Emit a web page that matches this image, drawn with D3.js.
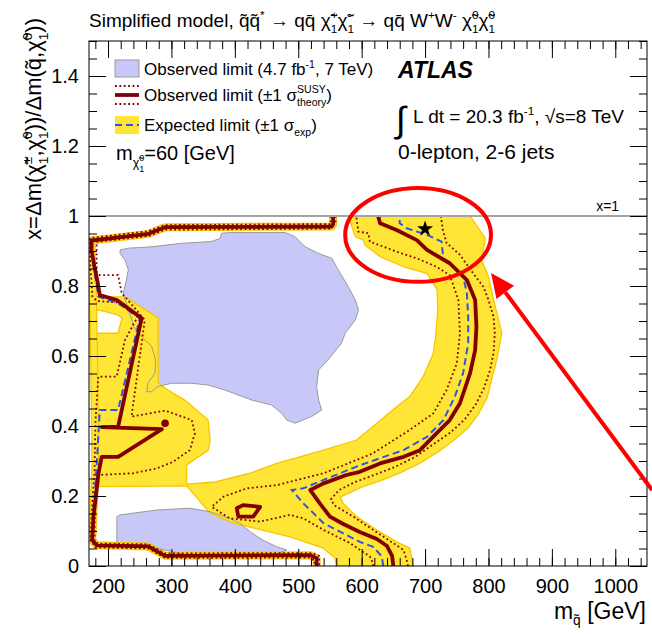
<!DOCTYPE html>
<html>
<head>
<meta charset="utf-8">
<script src="https://cdn.jsdelivr.net/npm/d3@7"></script>
<style>
  html, body { margin: 0; padding: 0; background: #fff; }
  svg { display: block; font-family: "Liberation Sans", Arial, Helvetica, sans-serif; }
</style>
</head>
<body>
<svg id="chart" width="652" height="634"></svg>
<script>
// ---------------- axis setup ----------------
const xDomain = [170, 1050];
const yDomain = [0, 1.5];
const xMajor = [200, 300, 400, 500, 600, 700, 800, 900, 1000];
const xTickLabels = ["200", "300", "400", "500", "600", "700", "800", "900", "1000"];
const yMajor = [0, 0.2, 0.4, 0.6, 0.8, 1.0, 1.2, 1.4];
const yTickLabels = ["0", "0.2", "0.4", "0.6", "0.8", "1", "1.2", "1.4"];
const xMinor = d3.range(180, 1050, 20);
const yMinor = d3.range(0, 1.5001, 0.05);

// ---------------- contours: [m_squark (GeV), x] ----------------
// 7 TeV observed exclusion (two islands)
const obs7Big = [[219,0.903],[232,0.908],[269,0.912],[316,0.922],[363,0.927],[377,0.936],[379,0.951],[395,0.953],[479,0.953],[495,0.941],[511,0.912],[532,0.893],[553,0.879],[563,0.846],[579,0.798],[590,0.76],[595,0.731],[590,0.703],[574,0.665],[568,0.636],[547,0.589],[532,0.56],[529,0.512],[532,0.474],[537,0.446],[521,0.427],[495,0.408],[482,0.417],[474,0.436],[458,0.46],[427,0.474],[384,0.503],[358,0.517],[332,0.522],[300,0.522],[277,0.512],[269,0.498],[261,0.498],[263,0.522],[274,0.551],[275,0.589],[269,0.627],[253,0.655],[240,0.684],[237,0.708],[232,0.731],[227,0.76],[224,0.779],[229,0.817],[232,0.846],[227,0.874],[219,0.893]];
const obs7Small = [[214,0.141],[219,0.146],[277,0.16],[329,0.165],[361,0.155],[392,0.136],[408,0.122],[424,0.098],[444,0.074],[466,0.055],[482,0.046],[471,0.037],[424,0.031],[329,0.029],[290,0.046],[266,0.054],[214,0.057]];

// expected +-1 sigma band
const expBand = [[176,0.769],[227,0.769],[279,0.709],[279,0.523],[290,0.508],[321,0.474],[358,0.417],[361,0.36],[358,0.331],[324,0.289],[324,0.234],[369,0.24],[424,0.265],[466,0.293],[540,0.331],[592,0.36],[624,0.408],[655,0.455],[676,0.484],[697,0.541],[713,0.608],[717,0.66],[720,0.731],[719,0.789],[703,0.836],[666,0.855],[629,0.884],[605,0.917],[603,0.931],[590,0.941],[579,1.0],[771,1.0],[795,0.936],[792,0.903],[790,0.869],[800,0.827],[808,0.76],[816,0.703],[821,0.666],[818,0.636],[813,0.589],[805.6,0.537],[797.7,0.48],[785,0.437],[767.8,0.394],[745.7,0.36],[720.4,0.326],[692,0.294],[660.5,0.266],[629,0.243],[600.6,0.226],[586.4,0.214],[566,0.197],[571,0.179],[592,0.141],[624,0.103],[655,0.069],[676,0.051],[681,0],[560,0],[558,0.023],[540,0.051],[487,0.083],[397,0.123],[361,0.151],[324,0.229],[187,0.227],[178,0.227],[178,0.665],[187,0.665],[216,0.665],[222,0.708],[216,0.717],[187,0.731],[178,0.731]];
// thin band along the low-mass edge
const expStrip = [[555,1.0],[555,0.977],[553,0.97],[290,0.968],[263.5,0.949],[174,0.93],[174,0.903],[176,0.8],[178,0.6],[180,0.3],[177,0.141],[175,0.074],[182,0.059],[263.5,0.056],[290,0.029],[519,0.031],[529,0.022],[529,0]];

// observed limit
const obsRight = [[650,0],[648,0.029],[640,0.057],[624,0.077],[597,0.097],[571,0.12],[550,0.141],[534,0.179],[519,0.217],[540,0.236],[576,0.26],[597,0.269],[629,0.293],[666,0.312],[692,0.331],[718,0.379],[739,0.417],[755,0.465],[771,0.551],[779,0.617],[781,0.684],[779,0.76],[766,0.817],[739,0.865],[703,0.903],[687,0.931],[655,0.96],[629,0.979],[626,1.0]];
const obsLeft = [[555,1.0],[555,0.977],[553,0.97],[290,0.968],[263.5,0.949],[174,0.93],[174,0.903],[178,0.86],[183,0.817],[187,0.774],[214,0.76],[253,0.708],[216,0.398],[190,0.397],[285,0.391],[216,0.312],[190,0.312],[185,0.265],[182,0.217],[177,0.141],[175,0.074],[182,0.059],[263.5,0.056],[290,0.029],[519,0.031],[529,0.022],[529,0]];
const obsLoop = [[403,0.165],[413,0.174],[440,0.169],[429,0.141],[405.5,0.141]];
const obsPoint = [[290,0.408]];

// observed limit, +-1 sigma theory
const theoryLowRight = [[618,0],[618,0.008],[613,0.027],[582,0.065],[540,0.103],[508,0.136],[487,0.146],[440,0.127],[392,0.136],[363.5,0.169],[382,0.198],[419,0.222],[466,0.231],[540,0.265],[618,0.322],[676,0.389],[713,0.436],[734,0.503],[750,0.579],[755,0.665],[752.5,0.76],[747,0.789],[739,0.831],[718,0.855],[687,0.879],[655,0.898],[613,0.927],[610.5,0.951],[595,0.955],[592,0.989],[592,1.0]];
const theoryHighRight = [[673,0],[671,0.017],[666,0.046],[634,0.084],[587,0.141],[556.4,0.174],[551.7,0.191],[564.3,0.217],[589.6,0.24],[619.5,0.26],[652.6,0.283],[684,0.311],[714,0.349],[741,0.383],[763,0.42],[780.4,0.463],[793,0.509],[802.5,0.56],[808,0.608],[810,0.665],[808,0.712],[800,0.76],[792,0.798],[776,0.836],[755,0.889],[734,0.923],[728,0.96],[725,1.0]];
const theoryHighLeft = [[551,1.0],[551,0.964],[290,0.961],[264.6,0.943],[182,0.926],[182,0.841],[187,0.831],[216,0.831],[221.6,0.779],[227,0.769],[258,0.703],[237,0.427],[290,0.444],[332,0.417],[337,0.379],[329,0.331],[303,0.298],[277,0.279],[240,0.265],[182.6,0.26],[179.5,0.189],[178.7,0.071],[184,0.064],[263,0.062],[290,0.036],[522,0.037],[533,0.029],[533,0]];
const theoryLowLeft = [[558.8,1.0],[558.8,0.977],[289,0.974],[262.3,0.956],[171.6,0.937],[171.6,0.874],[175.5,0.769],[182.6,0.757],[214.2,0.753],[247.3,0.714],[226.8,0.646],[213.7,0.541],[184.7,0.541],[180.3,0.417],[178.7,0.274],[175.5,0.189],[172.4,0.074],[180.3,0.053],[263.8,0.05],[290,0.023],[517,0.024],[525.7,0.016],[525.7,0]];

// expected limit
const expRight = [[634,0],[632,0.027],[618,0.055],[597,0.069],[560.6,0.103],[540,0.122],[524,0.151],[508,0.179],[490,0.217],[508,0.222],[540,0.246],[592,0.284],[629,0.308],[666,0.331],[703,0.369],[729,0.417],[747,0.484],[760,0.551],[768,0.636],[768,0.712],[766,0.779],[760,0.827],[745,0.855],[729,0.874],[726,0.927],[703,0.946],[671,0.965],[660,0.979],[660,1.0]];
const expLeft = [[555,1.0],[555,0.977],[553,0.971],[290,0.969],[263.5,0.95],[175,0.931],[175,0.889],[179.5,0.831],[185,0.769],[216,0.751],[250,0.708],[216,0.446],[187,0.446],[185,0.379],[182,0.284],[179.5,0.217],[176,0.143],[175,0.074],[182,0.06],[263.5,0.057],[290,0.03],[519,0.031],[531,0.022],[531,0]];

// benchmark point
const benchmark = [[700, 0.963]];
// x = 1 reference
const refX = 1.0;

// annotations: circled region and arrow (data coordinates)
const markCentre = [689, 0.946];
const markRadii = [115, 0.134];
const arrowFrom = [1058, 0.217];
const arrowTo = [804, 0.837];

// ---------------- colours ----------------
const C = {
  lav: "#c8c8f8", lavLine: "#9a9a9a",
  band: "#ffe536", bandEdge: "#f7c600",
  obs: "#820000", exp: "#2f55e0", ref: "#a5a5a5", annot: "#ff0000"
};

// ---------------- drawing ----------------
const svg = d3.select("#chart");
const x = d3.scaleLinear().domain(xDomain).range([89, 647]);
const y = d3.scaleLinear().domain(yDomain).range([566, 41]);
const line = d3.line().x(d => x(d[0])).y(d => y(d[1]));
const area = d3.line().x(d => x(d[0])).y(d => y(d[1])).curve(d3.curveLinearClosed);

svg.append("rect").attr("width", 652).attr("height", 634).attr("fill", "#fff");
svg.append("clipPath").attr("id", "frame")
  .append("rect").attr("x", 89).attr("y", 41).attr("width", 558).attr("height", 525);

const plot = svg.append("g").attr("clip-path", "url(#frame)");

// 7 TeV islands (fill)
[obs7Big, obs7Small].forEach(p => plot.append("path").attr("d", area(p)).attr("fill", C.lav));

// expected band
plot.append("path").attr("d", area(expBand)).attr("fill", C.band)
  .attr("stroke", C.bandEdge).attr("stroke-width", 1.3).attr("stroke-linejoin", "round");
plot.append("path").attr("d", line(expStrip)).attr("fill", "none")
  .attr("stroke", C.bandEdge).attr("stroke-width", 8).attr("stroke-linejoin", "round");
plot.append("path").attr("d", line(expStrip)).attr("fill", "none")
  .attr("stroke", C.band).attr("stroke-width", 5.5).attr("stroke-linejoin", "round");

// 7 TeV island outlines
[obs7Big, obs7Small].forEach(p => plot.append("path").attr("d", area(p)).attr("fill", "none")
  .attr("stroke", C.lavLine).attr("stroke-width", 1));

// theory +-1 sigma (dotted)
[theoryLowRight, theoryHighRight, theoryHighLeft, theoryLowLeft].forEach(p =>
  plot.append("path").attr("d", line(p)).attr("fill", "none").attr("stroke", C.obs)
    .attr("stroke-width", 1.8).attr("stroke-dasharray", "1.8,2.6"));

// expected (dashed)
[expRight, expLeft].forEach(p =>
  plot.append("path").attr("d", line(p)).attr("fill", "none").attr("stroke", C.exp)
    .attr("stroke-width", 2).attr("stroke-dasharray", "7,4"));

// observed (solid)
[obsRight, obsLeft].forEach(p =>
  plot.append("path").attr("d", line(p)).attr("fill", "none").attr("stroke", C.obs)
    .attr("stroke-width", 3.8).attr("stroke-linejoin", "round"));
plot.append("path").attr("d", area(obsLoop)).attr("fill", "none").attr("stroke", C.obs)
  .attr("stroke-width", 3.8).attr("stroke-linejoin", "round");
plot.selectAll(".opt").data(obsPoint).join("circle")
  .attr("cx", d => x(d[0])).attr("cy", d => y(d[1])).attr("r", 3.8).attr("fill", C.obs);

// x = 1 line
plot.append("line").attr("x1", x(xDomain[0])).attr("x2", x(xDomain[1]))
  .attr("y1", y(refX)).attr("y2", y(refX)).attr("stroke", C.ref).attr("stroke-width", 2);
svg.append("text").attr("x", x(988)).attr("y", y(refX) - 5).attr("text-anchor", "middle")
  .attr("font-size", 14).text("x=1");

// benchmark star
plot.selectAll(".bm").data(benchmark).join("path")
  .attr("transform", d => `translate(${x(d[0])},${y(d[1])})`)
  .attr("d", d3.symbol(d3.symbolStar, 80)()).attr("fill", "#000");

// ---------------- axes ----------------
function styleAxis(g) {
  g.select(".domain").remove();
  g.selectAll(".tick line").attr("stroke", "#000").attr("stroke-width", 1);
  g.selectAll("text").attr("font-size", 20).attr("fill", "#000")
    .attr("font-family", '"Liberation Sans", Arial, sans-serif');
}
svg.append("g").attr("transform", `translate(0,${y(0)})`)
  .call(d3.axisBottom(x).tickValues(xMinor).tickSize(-8).tickFormat(""))
  .call(styleAxis);
svg.append("g").attr("transform", `translate(0,${y(0)})`)
  .call(d3.axisBottom(x).tickValues(xMajor).tickSize(-17).tickPadding(13)
    .tickFormat((d, i) => xTickLabels[i]))
  .call(styleAxis);
svg.append("g").attr("transform", `translate(0,${y(1.5)})`)
  .call(d3.axisTop(x).tickValues(xMinor).tickSize(-8).tickFormat("")).call(styleAxis);
svg.append("g").attr("transform", `translate(0,${y(1.5)})`)
  .call(d3.axisTop(x).tickValues(xMajor).tickSize(-17).tickFormat("")).call(styleAxis);
svg.append("g").attr("transform", `translate(${x(xDomain[0])},0)`)
  .call(d3.axisLeft(y).tickValues(yMinor).tickSize(-8).tickFormat("")).call(styleAxis);
svg.append("g").attr("transform", `translate(${x(xDomain[0])},0)`)
  .call(d3.axisLeft(y).tickValues(yMajor).tickSize(-17).tickPadding(10)
    .tickFormat((d, i) => yTickLabels[i]))
  .call(styleAxis);
svg.append("g").attr("transform", `translate(${x(xDomain[1])},0)`)
  .call(d3.axisRight(y).tickValues(yMinor).tickSize(-8).tickFormat("")).call(styleAxis);
svg.append("g").attr("transform", `translate(${x(xDomain[1])},0)`)
  .call(d3.axisRight(y).tickValues(yMajor).tickSize(-17).tickFormat("")).call(styleAxis);
svg.append("rect").attr("x", x(xDomain[0])).attr("y", y(yDomain[1]))
  .attr("width", x(xDomain[1]) - x(xDomain[0])).attr("height", y(yDomain[0]) - y(yDomain[1]))
  .attr("fill", "none").attr("stroke", "#000").attr("stroke-width", 1);

// ---------------- rich text helper ----------------
// parts: strings or {t, s: size factor, b: baseline shift (em, +down), stack: overlay on previous}
function rich(parent, px, py, size, parts, attrs) {
  const t = parent.append("text").attr("x", px).attr("y", py).attr("font-size", size);
  Object.entries(attrs || {}).forEach(([k, v]) => t.attr(k, v));
  let cur = 0, lastW = 0, pending = 0;
  parts.forEach(p => {
    if (typeof p === "string") p = { t: p };
    const fs = size * (p.s || 1);
    const base = (p.b || 0) * size;
    const sp = t.append("tspan").attr("font-size", fs).attr("dy", base - cur).text(p.t);
    let dx = p.stack ? -lastW : pending;
    if (dx) sp.attr("dx", dx);
    cur = base;
    const w = sp.node().getComputedTextLength();
    if (p.stack) pending = Math.max(0, lastW - w);
    else { pending = 0; lastW = w; }
  });
  return t;
}
const sup = t => ({ t, s: 0.62, b: -0.42 });
const sub = t => ({ t, s: 0.62, b: 0.3 });
const subS = t => ({ t, s: 0.62, b: 0.3, stack: true });
const chi = "\u03C7\u0303", sq = "q\u0303", qbar = "q\u0304";

// title
rich(svg, 89, 27, 19, [
  "Simplified model, " + sq + sq, sup("*"), " \u2192 q" + qbar + " ",
  chi, sup("+"), subS("1"), chi, sup("-"), subS("1"),
  " \u2192 q" + qbar + " W", sup("+"), "W", sup("-"), " ",
  chi, sup("0"), subS("1"), chi, sup("0"), subS("1")
]);

// axis titles
rich(svg, 646, 619, 23, ["m", { t: sq, s: 0.6, b: 0.25 }, " [GeV]"], { "text-anchor": "end" });
const yt = svg.append("g").attr("transform", "translate(41,18) rotate(-90)");
rich(yt, 0, 0, 22, [
  "x=\u0394m(", chi, sup("\u00B1"), subS("1"), ",", chi, sup("0"), subS("1"), "))/\u0394m(",
  sq, ",", chi, sup("0"), subS("1"), "))"
], { "text-anchor": "end" });

// ---------------- legend ----------------
const leg = svg.append("g");
leg.append("rect").attr("x", 115).attr("y", 60).attr("width", 24).attr("height", 17)
  .attr("fill", C.lav).attr("stroke", C.lavLine).attr("stroke-width", 1);
rich(leg, 144, 75, 17, ["Observed limit (4.7 fb", sup("-1"), ", 7 TeV)"]);

[86, 104].forEach(v => leg.append("line").attr("x1", 115).attr("x2", 139).attr("y1", v).attr("y2", v)
  .attr("stroke", C.obs).attr("stroke-width", 1.8).attr("stroke-dasharray", "1.8,2.6"));
leg.append("line").attr("x1", 115).attr("x2", 139).attr("y1", 95).attr("y2", 95)
  .attr("stroke", C.obs).attr("stroke-width", 3.8);
rich(leg, 144, 101, 17, ["Observed limit (\u00B11 \u03C3", { t: "SUSY", s: 0.62, b: -0.45 },
  { t: "theory", s: 0.62, b: 0.3, stack: true }, ")"]);

leg.append("rect").attr("x", 115).attr("y", 116).attr("width", 24).attr("height", 18).attr("fill", C.band);
leg.append("line").attr("x1", 115).attr("x2", 139).attr("y1", 125).attr("y2", 125)
  .attr("stroke", C.exp).attr("stroke-width", 2).attr("stroke-dasharray", "7,4");
rich(leg, 144, 131, 17, ["Expected limit (\u00B11 \u03C3", sub("exp"), ")"]);

rich(leg, 116, 160, 20, ["m", { t: chi, s: 0.62, b: 0.35 }, { t: "0", s: 0.45, b: 0.05 },
  { t: "1", s: 0.45, b: 0.6, stack: true }, "=60 [GeV]"]);

// ---------------- labels ----------------
svg.append("text").attr("x", 398).attr("y", 78).attr("font-size", 23)
  .attr("font-weight", "bold").attr("font-style", "italic").text("ATLAS");
svg.append("text").attr("x", 396).attr("y", 132).attr("font-size", 36).text("\u222B");
rich(svg, 413, 123, 19, ["L dt = 20.3 fb", sup("-1"), ",  \u221As=8 TeV"]);
svg.append("text").attr("x", 398).attr("y", 159).attr("font-size", 21).text("0-lepton, 2-6 jets");

// ---------------- annotation ----------------
const ann = svg.append("g");
ann.append("ellipse").attr("cx", x(markCentre[0])).attr("cy", y(markCentre[1]))
  .attr("rx", x(markCentre[0] + markRadii[0]) - x(markCentre[0]))
  .attr("ry", y(markCentre[1] - markRadii[1]) - y(markCentre[1]))
  .attr("fill", "none").attr("stroke", C.annot).attr("stroke-width", 4);
{
  const x0 = x(arrowFrom[0]), y0 = y(arrowFrom[1]), x1 = x(arrowTo[0]), y1 = y(arrowTo[1]);
  const ang = Math.atan2(y1 - y0, x1 - x0), hl = 24, hw = 11;
  const bx = x1 - hl * Math.cos(ang), by = y1 - hl * Math.sin(ang);
  ann.append("line").attr("x1", x0).attr("y1", y0).attr("x2", bx).attr("y2", by)
    .attr("stroke", C.annot).attr("stroke-width", 4);
  const nx = -Math.sin(ang), ny = Math.cos(ang);
  ann.append("path").attr("d", `M${x1},${y1}L${bx + nx * hw},${by + ny * hw}L${bx - nx * hw},${by - ny * hw}Z`)
    .attr("fill", C.annot);
}
</script>
</body>
</html>
